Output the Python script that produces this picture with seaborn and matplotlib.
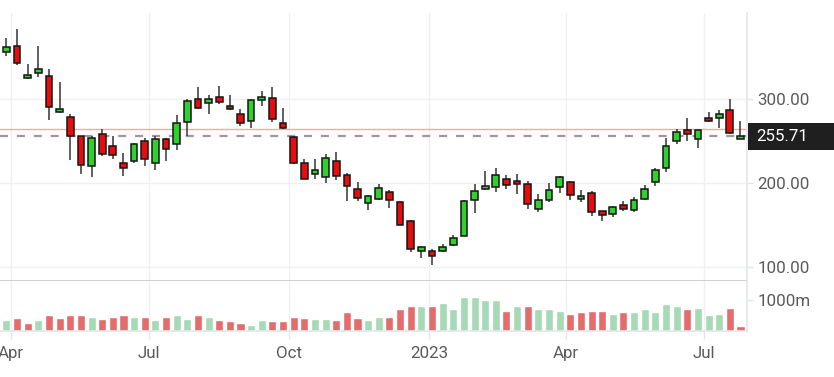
import pandas as pd
import matplotlib
matplotlib.use('Agg')
import matplotlib.pyplot as plt
import matplotlib.dates as mdates
from matplotlib.patches import Rectangle
from matplotlib.ticker import FixedLocator, FuncFormatter
import seaborn as sns

# weekly candles
weeks = pd.date_range('2022-03-29', periods=70, freq='7D')

opens = [356, 364, 324.8, 330.8, 327.2, 284.8, 279.2, 256, 220, 258.8,
         244, 224, 226, 250, 223.2, 252, 246, 273.2, 300.8, 296,
         303.2, 292, 282.8, 273.6, 299.2, 301.2, 272, 255.2, 223.2, 211.2,
         207.2, 226, 209.2, 192.8, 176, 180.8, 189.2, 176.8, 154.8, 119,
         119.2, 119.2, 126, 136.8, 179.2, 192.8, 194.8, 205.2, 202, 198.8,
         168.8, 180, 194.8, 200.8, 181, 188, 166, 162.8, 174, 168,
         181.2, 201.2, 218, 250, 262.8, 252, 278, 277.2, 286.8, 252]
highs = [373, 384, 342, 364, 336, 320, 282.8, 256.4, 256, 264.8,
         256, 235.2, 248, 253.2, 256, 253.6, 280.8, 300, 314, 304.8,
         316, 304.8, 288.8, 300, 310, 314, 290, 256, 228.8, 228.8,
         234, 236.8, 212, 200.8, 186, 199.2, 192, 178, 156, 124.8,
         120.8, 126.8, 138, 180, 198.8, 214.8, 218, 210, 211.2, 202,
         187.2, 200, 208.8, 202, 191.2, 190, 166.4, 172.8, 178, 182.8,
         198, 218, 254, 264, 278, 263, 284.8, 286.8, 300, 274]
lows = [352, 340.8, 324, 326, 275.2, 283.2, 227.2, 211.2, 207.2, 232,
        228.8, 208.8, 224, 220, 216, 226, 239.2, 256, 288, 282,
        294.8, 287.5, 268, 266, 292, 272.8, 264, 222.6, 204.8, 205.2,
        200, 203.2, 178, 178, 167.2, 180, 170, 149.5, 118, 110,
        102, 117.2, 124.8, 136, 164, 192, 188.8, 192.8, 187.2, 168.8,
        165.2, 176.8, 188, 180, 176.8, 160.8, 154, 158.8, 166, 164.8,
        180, 196, 212.8, 246, 250, 242, 273.2, 266, 258, 252]
closes = [362, 343.2, 328.8, 336, 291.2, 288.8, 256, 221.6, 254, 234.8,
          232.8, 218.4, 246, 228, 252, 240.8, 272, 297.6, 290, 300.8,
          297.2, 288, 272, 299.2, 302.8, 276, 266, 223.2, 205.2, 215.2,
          230, 208.8, 196, 182, 184, 194, 180, 150, 121.5, 123,
          113.2, 123.2, 134.4, 178.8, 190.8, 196.8, 209.2, 198, 198.8, 174.8,
          180, 191.2, 207.2, 186, 184.5, 165.2, 162, 170.8, 168.8, 180,
          192.8, 215.2, 244, 260.8, 258, 262.8, 274, 282, 260, 255.71]
volume_m = [339, 413, 265, 339, 518, 402, 518, 518, 444, 391,
            455, 518, 444, 444, 339, 444, 497, 391, 518, 444,
            349, 307, 254, 201, 349, 307, 307, 455, 413, 391,
            391, 349, 603, 413, 349, 444, 455, 698, 794, 794,
            794, 889, 688, 1079, 1079, 984, 984, 645, 794, 794,
            688, 688, 645, 550, 603, 645, 645, 550, 603, 603,
            688, 603, 846, 794, 688, 741, 497, 550, 741, 159]

last_price = 255.71
ref_level = 264.8
price_ticks = [100, 200, 300]
volume_ticks = [1000]
tick_dates = ['2022-04-01', '2022-07-01', '2022-10-01', '2023-01-01', '2023-04-01', '2023-07-01']
tick_labels = ['Apr', 'Jul', 'Oct', '2023', 'Apr', 'Jul']

sns.set_theme(style='white')
plt.rcParams['font.family'] = ['Roboto', 'DejaVu Sans']

df = pd.DataFrame({'date': weeks, 'open': opens, 'high': highs, 'low': lows,
                   'close': closes, 'volume': volume_m})
df['up'] = df['close'] >= df['open']
df['vol_up'] = df['close'] >= df['close'].shift().fillna(0)

W, H = 834, 377
fig = plt.figure(figsize=(W / 100, H / 100), dpi=100)
ax = fig.add_axes([0, (H - 281) / H, 747 / W, (281 - 13) / H])
axv = fig.add_axes([0, (H - 331) / H, 747 / W, 50 / H], sharex=ax)

grid_c = '#f0f0f0'
axis_c = '#e2e7ee'
label_c = '#5a5a5a'
fsize = 12.2

# price candles
ax.vlines(df['date'], df['low'], df['high'], color='#444444', lw=1.2, zorder=2)
body_bottom = df[['open', 'close']].min(axis=1)
body_h = (df['close'] - df['open']).abs().clip(lower=0.8)
ax.bar(df['date'], body_h, bottom=body_bottom, width=4.4,
       color=['#2fd12f' if u else '#e80c0c' for u in df['up']],
       edgecolor='#151515', linewidth=1.1, zorder=3)

ax.axhline(ref_level, color='#f6a8a8', lw=1.0, zorder=1)
ax.axhline(last_price, color='#9a9a9a', lw=1.6, dashes=(3.6, 4), zorder=1)

# volume
axv.bar(df['date'], df['volume'], width=5.3,
        color=['#a6d9b5' if u else '#e46c6c' for u in df['vol_up']], zorder=2)

xmin = pd.Timestamp('2022-03-24 18:00')
xmax = pd.Timestamp('2023-07-29 07:00')
ax.set_xlim(xmin, xmax)
ax.set_ylim(82.8, 403)
axv.set_ylim(0, 1590)

ticks = [mdates.date2num(pd.Timestamp(t)) for t in tick_dates]
for a in (ax, axv):
    for t in ticks:
        a.axvline(t, color=grid_c, lw=1.0, zorder=0)
for p in price_ticks:
    ax.axhline(p, color=grid_c, lw=1.0, zorder=0)

for a in (ax, axv):
    for s in a.spines.values():
        s.set_visible(False)
    a.spines['right'].set_visible(True)
    a.spines['right'].set_color(axis_c)
    a.spines['right'].set_linewidth(1.2)
    a.yaxis.tick_right()
    a.tick_params(axis='y', which='both', right=True, left=False, length=4,
                  width=1, color=axis_c, labelcolor=label_c, labelsize=fsize, pad=3.6)

ax.spines['bottom'].set_visible(True)
ax.spines['bottom'].set_color('#cccccc')
ax.spines['bottom'].set_linewidth(1.3)
axv.spines['bottom'].set_visible(True)
axv.spines['bottom'].set_color(axis_c)
axv.spines['bottom'].set_linewidth(1.2)

ax.yaxis.set_major_locator(FixedLocator(price_ticks))
ax.yaxis.set_major_formatter(FuncFormatter(lambda v, p: f'{v:.2f}'))
axv.yaxis.set_major_locator(FixedLocator(volume_ticks))
axv.yaxis.set_major_formatter(FuncFormatter(lambda v, p: f'{v:.0f}m'))

ax.tick_params(axis='x', bottom=False, labelbottom=False)
axv.xaxis.set_major_locator(FixedLocator(ticks))
axv.set_xticklabels(tick_labels)
axv.tick_params(axis='x', bottom=True, length=5.5, width=1, color=axis_c,
                labelcolor=label_c, labelsize=fsize, pad=5)

# last price label
ax.add_patch(Rectangle((748 / W, (H - 150) / H), 86 / W, 27 / H,
                       transform=fig.transFigure, facecolor='#1f1f1f',
                       edgecolor='none', zorder=5, clip_on=False))
ax.text(1.0 + 9 / 747, last_price, f'{last_price:.2f}',
        transform=ax.get_yaxis_transform(), ha='left', va='center',
        color='white', fontsize=fsize, zorder=6, clip_on=False)

fig.savefig('out.png', dpi=100)
